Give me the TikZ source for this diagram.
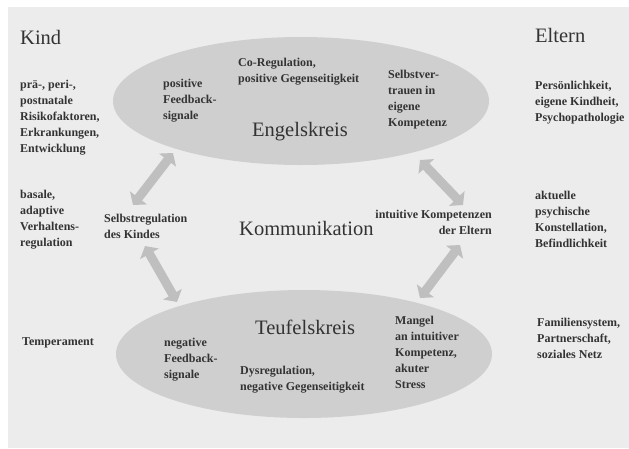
\documentclass[tikz,border=0pt]{standalone}
\usepackage{fontspec}
\setmainfont{Liberation Serif}
\usetikzlibrary{arrows.meta,shapes.geometric}
\tikzset{
  kreis/.style={ellipse, fill=gray!38, minimum width=376pt, minimum height=128pt, inner sep=0pt},
  titel/.style={font=\fontsize{20.5}{24}\selectfont, text=black!80, inner sep=0pt, anchor=base west},
  info/.style={font=\bfseries\fontsize{12}{16}\selectfont, text=black!80, inner sep=0pt, anchor=base west, align=left},
  pfeil/.style={line width=9pt, draw=gray!50, {Triangle[width=21pt,length=9pt]}-{Triangle[width=21pt,length=9pt]}}
}
\begin{document}
\begin{tikzpicture}[x=1pt, y=-1pt, line join=round]
	\fill[white] (0,0) rectangle (629,448);
	\fill[gray!15] (8,7) rectangle (629,448);
	\useasboundingbox (0,0) rectangle (629,448);
	% Kreise
	\node[kreis] (engel) at (301,101) {};
	\node[kreis] (teufel) at (304,354) {};
	% Titel
	\node[titel] (kind) at (20,44) {Kind};
	\node[titel] (eltern) at (535,42) {Eltern};
	\node[titel] (engelskreis) at (252,136) {Engelskreis};
	\node[titel] (komm) at (239,235) {Kommunikation};
	\node[titel] (teufelskreis) at (255,334) {Teufelskreis};
	% Texte (Grundlinie der letzten Zeile)
	\node[info] (risiko) at (20,152) {prä-, peri-,\\postnatale\\Risikofaktoren,\\Erkrankungen,\\Entwicklung};
	\node[info] (posfb) at (163,119) {positive\\Feedback-\\signale};
	\node[info] (koreg) at (238,82) {Co-Regulation,\\positive Gegenseitigkeit};
	\node[info] (vertrauen) at (388,126) {Selbstver-\\trauen in\\eigene\\Kompetenz};
	\node[info] (person) at (535,121) {Persönlichkeit,\\eigene Kindheit,\\Psychopathologie};
	\node[info] (basale) at (20,246) {basale,\\adaptive\\Verhaltens-\\regulation};
	\node[info] (selbstreg) at (104,238) {Selbstregulation\\des Kindes};
	\node[info, align=right, anchor=base east] (intuitiv) at (492,234) {intuitive Kompetenzen\\der Eltern};
	\node[info] (aktuell) at (535,247) {aktuelle\\psychische\\Konstellation,\\Befindlichkeit};
	\node[info] (temp) at (22,345) {Temperament};
	\node[info] (negfb) at (164,378) {negative\\Feedback-\\signale};
	\node[info] (dysreg) at (240,390) {Dysregulation,\\negative Gegenseitigkeit};
	\node[info] (mangel) at (395,388) {Mangel\\an intuitiver\\Kompetenz,\\akuter\\Stress};
	\node[info] (familie) at (537,358) {Familiensystem,\\Partnerschaft,\\soziales Netz};
	% Pfeile
	\path 
	(173,153) coordinate (k1)
	(133,205) coordinate (k2)
	(145,246) coordinate (k3)
	(177,302) coordinate (k4)
	(420,160) coordinate (e1)
	(463,205) coordinate (e2)
	(460,245) coordinate (e3)
	(420,298) coordinate (e4)
	;
	\foreach \a/\b in {k1/k2,k3/k4,e1/e2,e3/e4}
	\draw[pfeil] (\a) -- (\b);
\end{tikzpicture}
\end{document}
